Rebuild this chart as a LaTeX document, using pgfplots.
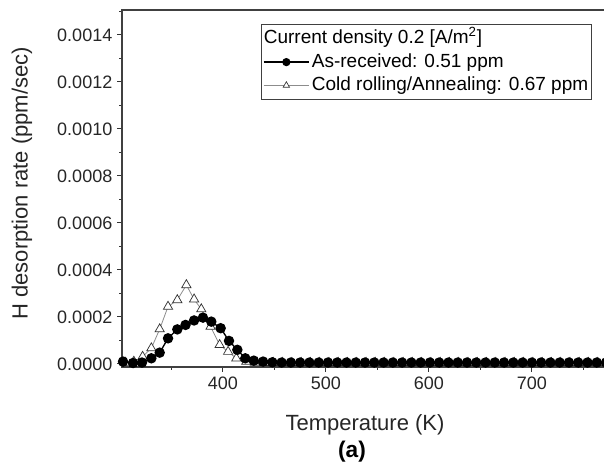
\documentclass[border=0pt]{standalone}
\usepackage{fontspec}
\setmainfont{Liberation Sans}
\usepackage{pgfplots}
\pgfplotsset{compat=1.18}
\pgfplotstableread{
T v
303 0.000010
312.7 0.000004
321.4 0.000006
330.5 0.000024
338.6 0.000048
346.7 0.000109
355.7 0.000147
363.7 0.000166
372 0.000185
380.6 0.000197
388.7 0.000180
397.8 0.000152
405.9 0.000098
414 0.000060
421.7 0.000024
430 0.000014
439 0.000010
448 0.000007
457 0.000006
466 0.000006
475 0.000006
484 0.000006
493 0.000006
502 0.000006
511 0.000006
520 0.000006
529 0.000006
538 0.000006
547 0.000006
556 0.000006
565 0.000006
574 0.000006
583 0.000006
592 0.000006
601 0.000006
610 0.000006
619 0.000006
628 0.000006
637 0.000006
646 0.000006
655 0.000006
664 0.000006
673 0.000006
682 0.000006
691 0.000006
700 0.000006
709 0.000006
718 0.000006
727 0.000006
736 0.000006
745 0.000006
754 0.000006
763 0.000006
772 0.000006
}\asreceived
\pgfplotstableread{
T v
305 0.000006
313.5 0.000010
322 0.000031
330.5 0.000067
338.6 0.000148
346.7 0.000244
355.7 0.000272
364.5 0.000336
372 0.000275
379 0.000233
388 0.000159
396.8 0.000081
405 0.000052
413 0.000024
422.7 0.000010
431 0.000006
440 0.000005
449 0.000005
458 0.000005
467 0.000005
476 0.000005
485 0.000005
494 0.000005
503 0.000005
512 0.000005
521 0.000005
530 0.000005
539 0.000005
548 0.000005
557 0.000005
566 0.000005
575 0.000005
584 0.000005
593 0.000005
602 0.000005
611 0.000005
620 0.000005
629 0.000005
638 0.000005
647 0.000005
656 0.000005
665 0.000005
674 0.000005
683 0.000005
692 0.000005
701 0.000005
710 0.000005
719 0.000005
728 0.000005
737 0.000005
746 0.000005
755 0.000005
764 0.000005
773 0.000005
}\coldrolled
\begin{document}
\begin{tikzpicture}
\useasboundingbox (0,0) rectangle (453pt,349.5pt);
\begin{axis}[
  at={(91.5pt,74.25pt)}, anchor=south west, scale only axis,
  width=369.2pt, height=267.75pt,
  xmin=302, xmax=780, ymin=-0.000013, ymax=0.001506,
  axis line style={line width=0.9pt, draw=black!75},
  tick align=outside, xtick pos=bottom, ytick pos=left,
  major tick length=3.75pt, minor tick length=2.2pt,
  every tick/.style={black!80, line width=0.7pt},
  xtick={400,500,600,700},
  minor xtick={350,450,550,650,750},
  ytick={0,0.0002,0.0004,0.0006,0.0008,0.0010,0.0012,0.0014},
  yticklabels={0.0000,0.0002,0.0004,0.0006,0.0008,0.0010,0.0012,0.0014},
  minor ytick={0.0001,0.0003,0.0005,0.0007,0.0009,0.0011,0.0013,0.0015},
  scaled y ticks=false,
  /pgf/number format/assume math mode=true,
  tick label style={font=\fontsize{13.5}{16}\selectfont, text=black!85},
  legend cell align=left,
  legend style={at={(0.2824,0.9608)}, anchor=north west, draw=black!75,
    line width=0.7pt, font=\fontsize{14.25}{16.5}\selectfont,
    inner xsep=1pt, inner ysep=2pt, row sep=0pt,
    nodes={inner sep=1.5pt, text height=11pt, text depth=3.5pt}},
  legend image code/.code={\draw[mark repeat=2,mark phase=2] plot coordinates {(0pt,0pt) (17pt,0pt) (34pt,0pt)};},
]
\addlegendimage{empty legend}
\addlegendentry{\hspace*{-36pt}Current density 0.2 [A/m\textsuperscript{2}]}
\addlegendimage{black, line width=1.3pt, mark=*, mark size=2.4pt, mark options={solid}}
\addlegendentry{As-received: 0.51 ppm}
\addlegendimage{black!45, line width=0.6pt, mark=triangle*, mark size=2.8pt, mark options={fill=white, draw=black!80, line width=0.5pt}}
\addlegendentry{Cold rolling/Annealing: 0.67 ppm}
\addplot[forget plot, black!45, line width=0.6pt, mark=triangle*, mark size=4pt, mark options={fill=white, draw=black!80, line width=0.55pt}] table[x=T,y=v] {\coldrolled};
\addplot[forget plot, black, line width=1pt, mark=*, mark size=3.4pt] table[x=T,y=v] {\asreceived};
\end{axis}
\node[rotate=90, font=\fontsize{16.5}{19}\selectfont, text=black!85] at (16.5pt,212pt) {H desorption rate (ppm/sec)};
\node[font=\fontsize{16.5}{19}\selectfont, text=black!85] at (273.75pt,30.75pt) {Temperature (K)};
\node[font=\fontsize{17}{20}\selectfont\bfseries] at (264pt,10.5pt) {(a)};
\end{tikzpicture}
\end{document}
